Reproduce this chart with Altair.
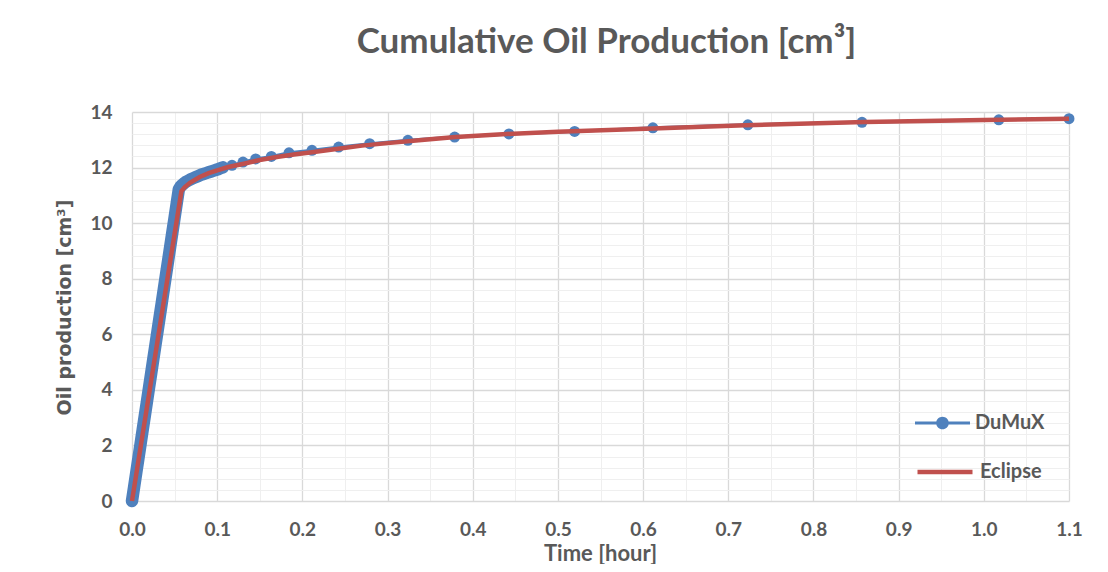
import altair as alt
import pandas as pd

# ---- data ----
dumux_time = [0.000, 0.0025, 0.005, 0.0075, 0.010, 0.0125, 0.015, 0.0175, 0.020, 0.0225,
              0.025, 0.0275, 0.030, 0.0325, 0.035, 0.0375, 0.040, 0.0425, 0.045, 0.0475,
              0.050, 0.0525, 0.055, 0.057, 0.059, 0.061, 0.063, 0.066, 0.069, 0.072,
              0.075, 0.078, 0.081, 0.084, 0.087, 0.090, 0.093, 0.096, 0.099, 0.102,
              0.104, 0.1068, 0.1174, 0.1303, 0.1452, 0.1636, 0.1843, 0.2113, 0.2426, 0.279,
              0.3239, 0.3788, 0.4425, 0.5196, 0.6115, 0.723, 0.857, 1.0176, 1.100]
dumux_oil = [0.00, 0.51, 1.02, 1.53, 2.04, 2.55, 3.06, 3.57, 4.08, 4.59,
             5.10, 5.61, 6.12, 6.63, 7.14, 7.65, 8.16, 8.67, 9.18, 9.69,
             10.20, 10.71, 11.22, 11.32, 11.38, 11.43, 11.48, 11.53, 11.58, 11.62,
             11.66, 11.70, 11.74, 11.77, 11.80, 11.83, 11.86, 11.89, 11.92, 11.95,
             11.98, 12.01, 12.08, 12.20, 12.31, 12.40, 12.53, 12.62, 12.74, 12.86,
             12.98, 13.10, 13.21, 13.30, 13.43, 13.54, 13.63, 13.72, 13.76]

eclipse_time = [0.000, 0.058, 0.062, 0.068, 0.0795, 0.090, 0.100, 0.113, 0.130, 0.150,
                0.170, 0.190, 0.2113, 0.240, 0.270, 0.300, 0.340, 0.380, 0.440, 0.500,
                0.6115, 0.720, 0.860, 1.000, 1.100]
eclipse_oil = [0.00, 11.15, 11.30, 11.45, 11.66, 11.80, 11.90, 12.02, 12.13, 12.27,
               12.38, 12.47, 12.55, 12.67, 12.79, 12.88, 12.99, 13.10, 13.21, 13.29,
               13.41, 13.52, 13.64, 13.71, 13.76]

series_names = ["DuMuX", "Eclipse"]
x_major = [0.0, 0.1, 0.2, 0.3, 0.4, 0.5, 0.6, 0.7, 0.8, 0.9, 1.0, 1.1]
x_minor = [0.05, 0.15, 0.25, 0.35, 0.45, 0.55, 0.65, 0.75, 0.85, 0.95, 1.05]
y_major = [0, 2, 4, 6, 8, 10, 12, 14]
y_minor = [0.4, 0.8, 1.2, 1.6, 2.4, 2.8, 3.2, 3.6, 4.4, 4.8, 5.2, 5.6, 6.4, 6.8, 7.2, 7.6,
           8.4, 8.8, 9.2, 9.6, 10.4, 10.8, 11.2, 11.6, 12.4, 12.8, 13.2, 13.6]
dense_until = 0.1068  # DuMuX markers overlap into a solid band up to here

BLUE = "#4F81BD"
RED = "#C0504D"
TXT = "#595959"
FONT = "Lato"

dumux = pd.DataFrame({"t": dumux_time, "v": dumux_oil, "series": series_names[0]})
eclipse = pd.DataFrame({"t": eclipse_time, "v": eclipse_oil, "series": series_names[1]})

xs = alt.Scale(domain=[0, 1.1], nice=False, zero=False)
ys = alt.Scale(domain=[0, 14], nice=False, zero=False)

minor = alt.Chart(eclipse).mark_line(opacity=0).encode(
    x=alt.X("t:Q", scale=xs, axis=alt.Axis(orient="top", values=x_minor, labels=False, ticks=False,
                                             domain=False, grid=True, gridColor="#efefef",
                                             gridWidth=1, title=None)),
    y=alt.Y("v:Q", scale=ys, axis=alt.Axis(orient="right", values=y_minor, labels=False, ticks=False,
                                             domain=False, grid=True, gridColor="#efefef",
                                             gridWidth=1, title=None)),
)

dumux_line = alt.Chart(dumux).mark_line(color=BLUE, strokeWidth=3).encode(
    x=alt.X("t:Q", scale=xs, axis=alt.Axis(
        orient="bottom", values=x_major, format=".1f", ticks=False, tickSize=0, domain=False,
        grid=True, gridColor="#d9d9d9", gridWidth=1.3, labelFlush=False,
        labelFont=FONT, labelFontSize=19, labelFontWeight="bold", labelColor=TXT,
        labelPadding=28, labelBaseline="middle",
        title="Time [hour]", titleFont=FONT, titleFontSize=22, titleFontWeight="bold",
        titleColor=TXT, titleX=468, titleY=52, titleBaseline="middle", titleAlign="center")),
    y=alt.Y("v:Q", scale=ys, axis=alt.Axis(
        orient="left", values=y_major, format="d", ticks=False, tickSize=0, domain=False,
        grid=True, gridColor="#d9d9d9", gridWidth=1.3, labelFlush=False,
        labelFont=FONT, labelFontSize=19, labelFontWeight="bold", labelColor=TXT,
        labelPadding=20,
        title="Oil production [cm³]", titleFont="DejaVu Sans", titleFontSize=19,
        titleFontWeight="bold", titleColor=TXT, titleAngle=270, titleX=-68, titleY=195,
        titleBaseline="middle", titleAlign="center")),
)

# dense early markers merge into a solid band
dumux_band = alt.Chart(dumux).transform_filter(
    alt.datum.t <= dense_until
).mark_line(color=BLUE, strokeWidth=12.5, strokeCap="round", strokeJoin="round").encode(
    x=alt.X("t:Q", scale=xs, axis=None),
    y=alt.Y("v:Q", scale=ys, axis=None),
)

dumux_pts = alt.Chart(dumux).mark_point(filled=True, size=120, opacity=1).encode(
    x=alt.X("t:Q", scale=xs, axis=None),
    y=alt.Y("v:Q", scale=ys, axis=None),
    color=alt.Color("series:N", scale=alt.Scale(domain=[series_names[0]], range=[BLUE]),
                    legend=alt.Legend(
                        title=None, orient="none", legendX=783, legendY=283.5, padding=0,
                        symbolType="M-1,-0.055H-0.19V0.055H-1Z M0.19,-0.055H1V0.055H0.19Z "
                                   "M0.23,0A0.23,0.23,0,1,1,-0.23,0A0.23,0.23,0,1,1,0.23,0Z",
                        symbolSize=3025, symbolStrokeWidth=0, symbolOpacity=1,
                        labelFont=FONT, labelFontSize=20, labelFontWeight="bold",
                        labelColor=TXT, labelOffset=5)),
)

eclipse_line = alt.Chart(eclipse).mark_line(strokeWidth=4.5).encode(
    x=alt.X("t:Q", scale=xs, axis=None),
    y=alt.Y("v:Q", scale=ys, axis=None),
    color=alt.Color("series:N", scale=alt.Scale(domain=[series_names[1]], range=[RED]),
                    legend=alt.Legend(
                        title=None, orient="none", legendX=783, legendY=330, padding=0,
                        symbolType="stroke", symbolSize=3025, symbolStrokeWidth=4.5,
                        labelFont=FONT, labelFontSize=20, labelFontWeight="bold",
                        labelColor=TXT, labelOffset=5)),
)

chart = alt.layer(minor, dumux_line, dumux_band, dumux_pts, eclipse_line).resolve_scale(
    color="independent"
).resolve_axis(
    x="independent", y="independent"
).properties(
    width=937,
    height=389,
    padding={"left": 124, "top": 104, "right": 20, "bottom": 63},
    autosize=alt.AutoSizeParams(type="none"),
    background="white",
    title=alt.TitleParams(
        text="Cumulative Oil Production [cm³]", font=FONT, fontSize=35, fontWeight="bold",
        color=TXT, anchor="middle", frame="group", baseline="alphabetic", offset=15, dx=6),
).configure_view(stroke=None)

chart.save("out.html", embed_options={"renderer": "svg", "actions": False})
